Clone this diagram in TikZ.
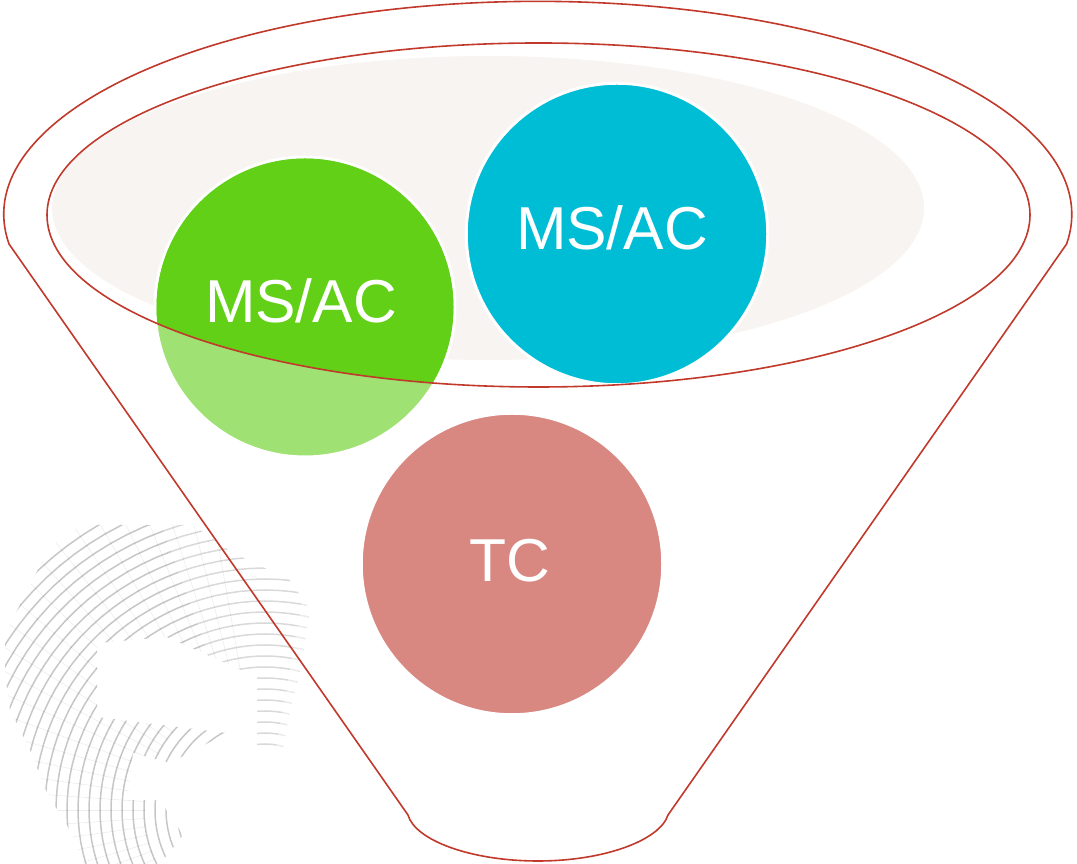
\documentclass[tikz,border=0pt]{standalone}
\usepackage{fontspec}
\setmainfont{Liberation Sans}
\definecolor{funnelred}{RGB}{192,57,43}
\definecolor{beige}{RGB}{247,244,241}
\definecolor{gdark}{RGB}{98,208,22}
\definecolor{glight}{RGB}{160,225,115}
\definecolor{teal}{RGB}{0,189,214}
\definecolor{rose}{RGB}{216,136,129}
\tikzset{
  ball/.style={circle,minimum size=301.5pt,inner sep=0pt,outer sep=0pt,draw=white,line width=3pt},
  balltext/.style={text=white,font=\fontsize{60.6}{72}\selectfont},
  funnel/.style={draw=funnelred,line width=1.6pt,line join=round},
  grid arc/.style={draw=black,line width=1.5pt},
  grid ray/.style={draw=black,line width=.6pt,opacity=.07}
}
\begin{document}
\begin{tikzpicture}[x=1pt,y=1pt]
\useasboundingbox (0,0) rectangle (1077,864);
% faint watermark pattern
\begin{scope}
\clip (53,324) -- (83,339) -- (193,339) -- (233,311) -- (290,284) -- (310,254) -- (300,190)
  -- (290,154) -- (283,114) -- (257,114) -- (257,187) -- (167,227) -- (97,221) -- (97,147)
  -- (227,131) -- (170,101) -- (133,111) -- (128,64) -- (160,64) -- (183,29) -- (160,0)
  -- (83,0) -- (83,4) -- (68,37) -- (47,71) -- (30,114) -- (10,154) -- (5,190) -- (5,230) -- cycle;
\foreach \r in {66,77,...,330}{
  \foreach \a in {30,40,...,220}{
    \pgfmathsetmacro{\op}{\a>=110?0.22:(\a>=80?0.15:0.08)}
    \draw[grid arc,opacity=\op] plot[domain=\a:\a+10,samples=4]
      ({265+\r*cos(\x)},{54+\r*sin(\x)});
  }
}
\foreach \a in {100,104,...,220}{
  \draw[grid ray] ({265+120*cos(\a)},{54+120*sin(\a)}) -- ({265+340*cos(\a)},{54+340*sin(\a)});
}
\end{scope}
% liquid surface
\fill[beige] (488,656) ellipse[x radius=436pt,y radius=152pt];
% balls
\node[ball,fill=teal] (b) at (617,630) {};
\node[balltext] (bt) at (612,636) {MS/AC};
\node[ball,fill=rose] (t) at (512,300) {};
\node[balltext] (tt) at (510,303) {TC};
\node[ball,fill=glight,minimum size=300pt] (g) at (305,557) {};
\begin{scope}
\clip (538.5,649) ellipse[x radius=491.5pt,y radius=172pt];
\node[circle,minimum size=297pt,inner sep=0pt,outer sep=0pt,fill=gdark] (gd) at (g) {};
\end{scope}
\node[balltext] (gt) at (301,563) {MS/AC};
% funnel
\draw[funnel] (538.5,649) ellipse[x radius=491.5pt,y radius=172pt];
\draw[funnel] (9,620) arc[start angle=188,end angle=-8,x radius=534pt,y radius=213pt]
  -- (668,49) .. controls (660,24) and (605,3) .. (538,3)
  .. controls (470,3) and (415,24) .. (408,49) -- cycle;
\end{tikzpicture}
\end{document}
